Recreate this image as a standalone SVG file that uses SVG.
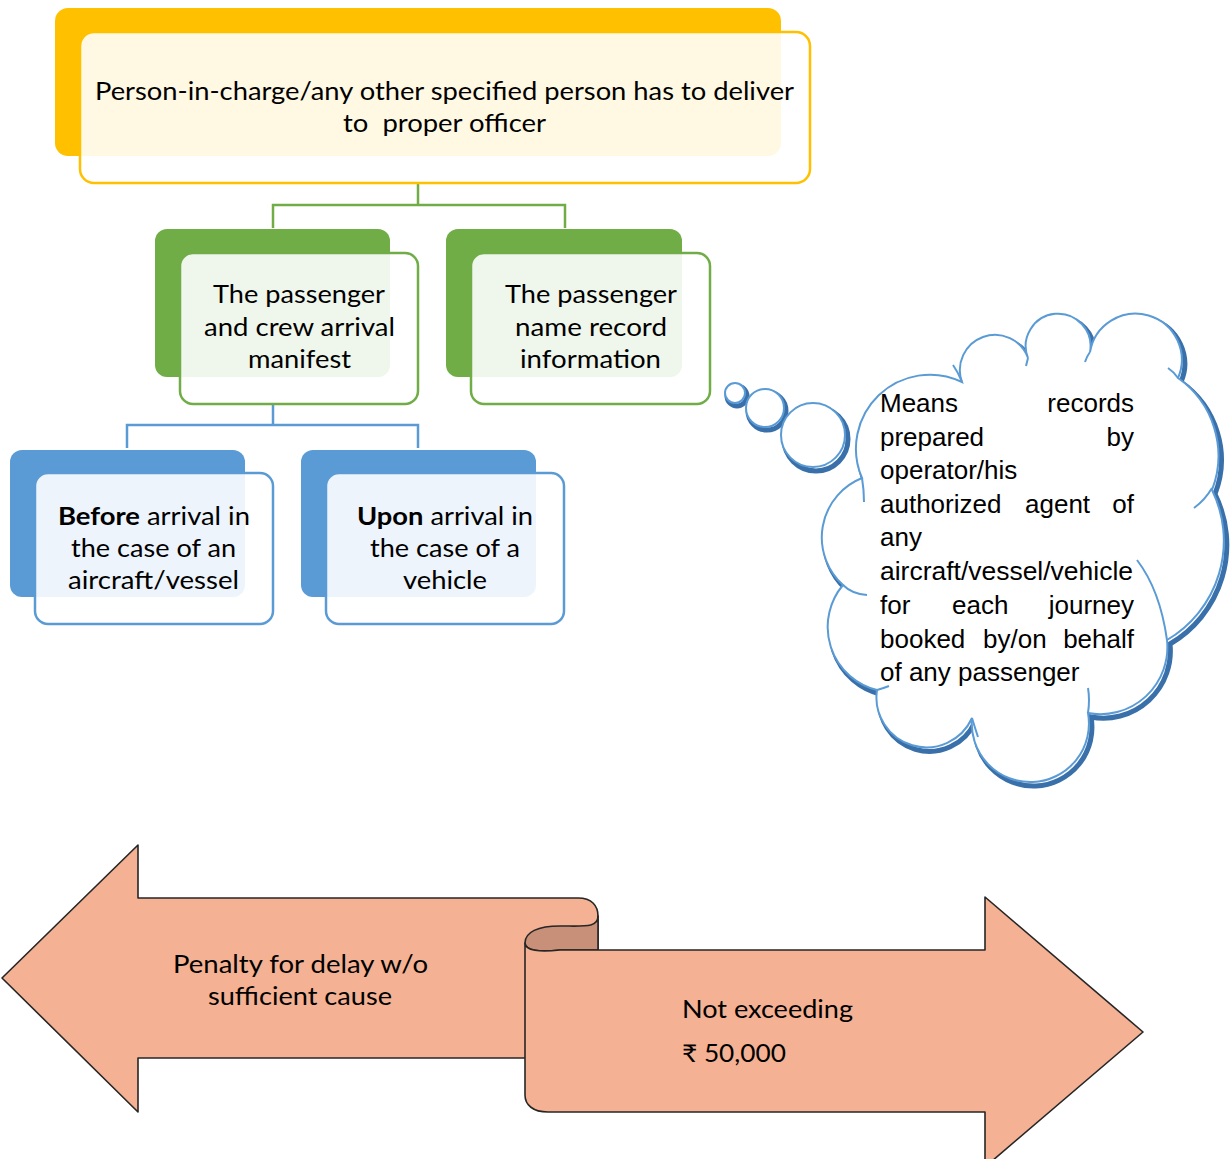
<svg xmlns="http://www.w3.org/2000/svg" width="1230" height="1159" viewBox="0 0 1230 1159">
<style>
.cal{font-family:Lato,"Noto Sans","DejaVu Sans",sans-serif;font-size:24.5px;fill:#000}
.ari{font-family:"Liberation Sans",Arial,sans-serif;font-size:26px;fill:#000}
.ylw{fill:#FFC000}
.grn{fill:#70AD47}
.blu{fill:#5B9BD5}
.front{fill:#fff;fill-opacity:0.89;stroke-width:2.5}
.conn{fill:none;stroke-width:2.5}
.arr{fill:#F4B193;stroke:#262626;stroke-width:1.6;stroke-linejoin:round}
.cloud{fill:#fff;stroke:#5B9BD5;stroke-width:2}
.cshadow{fill:none;stroke:#3A70AA;stroke-width:5}
.inner{fill:none;stroke:#5B9BD5;stroke-width:2}
</style>

<g id="connectors">
  <path class="conn" stroke="#70AD47" d="M418,183 V205 H273 V228 M418,205 H565 V228"/>
  <path class="conn" stroke="#5B9BD5" d="M273,404 V425 H127 V448 M273,425 H418 V448"/>
</g>

<g id="node-top">
  <rect class="ylw" x="55" y="8" width="726" height="148" rx="13"/>
  <rect class="front" stroke="#FFC000" x="80" y="32" width="730" height="151" rx="14"/>
  <text class="cal" text-anchor="middle" x="444.5" y="100" textLength="699" lengthAdjust="spacingAndGlyphs">Person-in-charge/any other specified person has to deliver</text>
  <text class="cal" text-anchor="middle" x="444.5" y="132" textLength="203" lengthAdjust="spacingAndGlyphs" style="white-space:pre">to  proper officer</text>
</g>

<g id="node-manifest">
  <rect class="grn" x="155" y="229" width="235" height="148" rx="12"/>
  <rect class="front" stroke="#70AD47" x="180" y="253" width="238" height="151" rx="13"/>
  <text class="cal" text-anchor="middle" x="299" y="303" textLength="172" lengthAdjust="spacingAndGlyphs">The passenger</text>
  <text class="cal" text-anchor="middle" x="299.5" y="336" textLength="191" lengthAdjust="spacingAndGlyphs">and crew arrival</text>
  <text class="cal" text-anchor="middle" x="299.5" y="368" textLength="103" lengthAdjust="spacingAndGlyphs">manifest</text>
</g>

<g id="node-pnr">
  <rect class="grn" x="446" y="229" width="236" height="148" rx="12"/>
  <rect class="front" stroke="#70AD47" x="471" y="253" width="239" height="151" rx="13"/>
  <text class="cal" text-anchor="middle" x="591" y="303" textLength="172" lengthAdjust="spacingAndGlyphs">The passenger</text>
  <text class="cal" text-anchor="middle" x="591" y="336" textLength="152" lengthAdjust="spacingAndGlyphs">name record</text>
  <text class="cal" text-anchor="middle" x="590.5" y="368" textLength="141" lengthAdjust="spacingAndGlyphs">information</text>
</g>

<g id="node-before">
  <rect class="blu" x="10" y="450" width="235" height="147" rx="12"/>
  <rect class="front" stroke="#5B9BD5" x="35" y="473" width="238" height="151" rx="13"/>
  <text class="cal" text-anchor="middle" x="154" y="525" textLength="192" lengthAdjust="spacingAndGlyphs"><tspan font-weight="bold">Before</tspan> arrival in</text>
  <text class="cal" text-anchor="middle" x="153.5" y="557" textLength="165" lengthAdjust="spacingAndGlyphs">the case of an</text>
  <text class="cal" text-anchor="middle" x="153.5" y="589" textLength="171" lengthAdjust="spacingAndGlyphs">aircraft/vessel</text>
</g>

<g id="node-upon">
  <rect class="blu" x="301" y="450" width="235" height="147" rx="12"/>
  <rect class="front" stroke="#5B9BD5" x="326" y="473" width="238" height="151" rx="13"/>
  <text class="cal" text-anchor="middle" x="445" y="525" textLength="176" lengthAdjust="spacingAndGlyphs"><tspan font-weight="bold">Upon</tspan> arrival in</text>
  <text class="cal" text-anchor="middle" x="445" y="557" textLength="150" lengthAdjust="spacingAndGlyphs">the case of a</text>
  <text class="cal" text-anchor="middle" x="445" y="589" textLength="84" lengthAdjust="spacingAndGlyphs">vehicle</text>
</g>

<g id="node-cloud">
  <defs>
    <path id="cloudpath" d="M862,478 A74,74 0 0 1 962,382 A35,35 0 0 1 1028,358 A32.4,32.4 0 1 1 1090,352 A46.2,46.2 0 1 1 1178,378 A95,95 0 0 1 1212,490 A115,115 0 0 1 1167,640 A67,67 0 0 1 1088,713 A58.6,58.6 0 1 1 972,718 A50,50 0 0 1 877,690 A65,65 0 0 1 843,585 A64,64 0 0 1 862,478 Z"/>
  </defs>
  <circle class="cshadow" cx="737" cy="396" r="10"/>
  <circle class="cshadow" cx="767" cy="411" r="19"/>
  <circle class="cshadow" cx="816" cy="439" r="32"/>
  <use href="#cloudpath" class="cshadow" transform="translate(3,4)"/>
  <circle class="cloud" cx="735" cy="393" r="10"/>
  <circle class="cloud" cx="765" cy="408" r="19"/>
  <circle class="cloud" cx="813" cy="435" r="32"/>
  <use href="#cloudpath" class="cloud"/>
  <path class="inner" d="M862,478 Q864,490 864,502 M962,382 Q958,372 953,365 M1028,358 L1026,366 M1090,352 Q1087,356 1085,362 M1178,378 Q1174,372 1168,368 M1212,488 Q1205,500 1194,508 M1167,640 Q1160,590 1137,560 M1088,713 Q1090,700 1088,688 M972,718 Q975,728 978,737 M877,690 Q884,688 889,686 M843,585 Q852,594 867,595"/>
  <text class="ari" y="412"><tspan x="880">Means</tspan><tspan x="1134" text-anchor="end">records</tspan></text>
  <text class="ari" y="446"><tspan x="880">prepared</tspan><tspan x="1134" text-anchor="end">by</tspan></text>
  <text class="ari" x="880" y="479">operator/his</text>
  <text class="ari" y="513"><tspan x="880">authorized</tspan><tspan x="1025">agent</tspan><tspan x="1134" text-anchor="end">of</tspan></text>
  <text class="ari" x="880" y="546">any</text>
  <text class="ari" x="880" y="580" textLength="253" lengthAdjust="spacingAndGlyphs">aircraft/vessel/vehicle</text>
  <text class="ari" y="614"><tspan x="880">for</tspan><tspan x="952">each</tspan><tspan x="1134" text-anchor="end">journey</tspan></text>
  <text class="ari" y="648"><tspan x="880">booked</tspan><tspan x="983">by/on</tspan><tspan x="1134" text-anchor="end">behalf</tspan></text>
  <text class="ari" x="880" y="681">of any passenger</text>
</g>

<g id="node-penalty">
  <path class="arr" d="M2,978 L138,845 L138,898 L578,898 C592,898 598,906 598,916 L598,1058 L138,1058 L138,1112 Z"/>
  <path class="arr" style="fill:#C99079" d="M598,916 C598,928 585,926 560,926 C538,926 525,932 525,943 C525,951 540,952 560,950 L598,950 Z"/>
  <text class="cal" text-anchor="middle" x="300.5" y="973" textLength="255" lengthAdjust="spacingAndGlyphs">Penalty for delay w/o</text>
  <text class="cal" text-anchor="middle" x="300" y="1005" textLength="184" lengthAdjust="spacingAndGlyphs">sufficient cause</text>
</g>

<g id="node-amount">
  <path class="arr" d="M525,943 C525,951 540,952 560,950 L985,950 L985,897 L1143,1032 L985,1167 L985,1112 L548,1112 C533,1112 525,1105 525,1095 Z"/>
  <text class="cal" x="682" y="1018" textLength="171" lengthAdjust="spacingAndGlyphs">Not exceeding</text>
  <text class="cal" x="682" y="1062" textLength="104" lengthAdjust="spacingAndGlyphs">₹ 50,000</text>
</g>
</svg>
